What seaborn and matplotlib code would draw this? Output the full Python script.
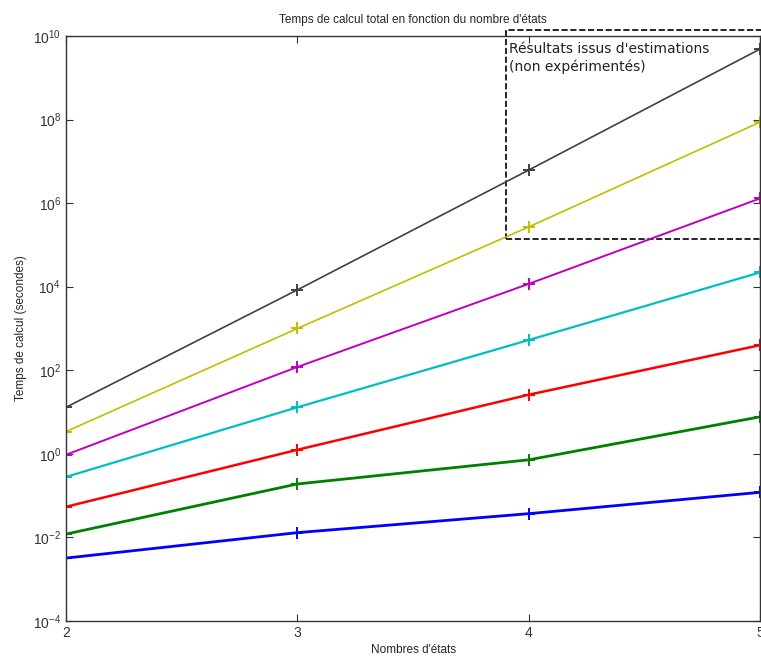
import numpy as np
import pandas as pd
import seaborn as sns
import matplotlib.pyplot as plt
from matplotlib.patches import Rectangle

# nombres d'etats
etats = [2, 3, 4, 5]

# temps de calcul (secondes), une serie par courbe
t_black = [13, 8.4e3, 6.2e6, 4.9e9]
t_yellow = [3.4, 1.0e3, 2.7e5, 8.7e7]
t_magenta = [0.95, 120, 1.17e4, 1.3e6]
t_cyan = [0.28, 13, 530, 2.2e4]
t_red = [0.054, 1.25, 26, 400]
t_green = [0.012, 0.19, 0.72, 7.7]
t_blue = [0.0032, 0.013, 0.037, 0.12]

series = [
    ("black", t_black, (0.25, 0.25, 0.25), 1.2),
    ("yellow", t_yellow, (0.75, 0.75, 0.0), 1.2),
    ("magenta", t_magenta, (0.75, 0.0, 0.75), 1.4),
    ("cyan", t_cyan, (0.0, 0.75, 0.75), 1.6),
    ("red", t_red, (1.0, 0.0, 0.0), 1.8),
    ("green", t_green, (0.0, 0.5, 0.0), 2.0),
    ("blue", t_blue, (0.0, 0.0, 1.0), 2.0),
]

sns.set_style("ticks")
plt.rcParams['font.family'] = ['Liberation Sans', 'DejaVu Sans']
plt.rcParams['mathtext.default'] = 'regular'
plt.rcParams['axes.unicode_minus'] = False
plt.rcParams['xtick.direction'] = 'in'
plt.rcParams['ytick.direction'] = 'in'

fig = plt.figure(figsize=(7.61, 6.59), dpi=100)
ax = fig.add_axes([0.0867, 0.0577, 0.9123, 0.8877])

for name, vals, col, lw in series:
    df = pd.DataFrame({"etats": etats, "temps": vals})
    sns.lineplot(data=df, x="etats", y="temps", color=col, linewidth=lw,
                 marker='+', markersize=8, markeredgewidth=1.4,
                 markeredgecolor=col, ax=ax, legend=False)

ax.set_yscale('log')
ax.set_xlim(2, 5)
ax.set_ylim(1e-4, 1e10)
ax.set_xticks(etats)
ax.set_yticks([10.0 ** k for k in range(-4, 11, 2)])
ax.minorticks_off()
ax.tick_params(axis='both', which='both', top=True, right=True,
               length=5, width=0.8, labelsize=10, colors='#333333')
for sp in ax.spines.values():
    sp.set_linewidth(1.0)
    sp.set_color('#333333')

ax.set_title("Temps de calcul total en fonction du nombre d'états", fontsize=8.5, pad=9)
ax.set_xlabel("Nombres d'états", fontsize=8.5, labelpad=3)
ax.set_ylabel("Temps de calcul (secondes)", fontsize=8.5, labelpad=4)

# zone estimee
box = Rectangle((3.9, 1.4e5), 1.3, 1.4e10 - 1.4e5, fill=False,
                linestyle='--', linewidth=1.2, edgecolor='black', clip_on=False)
ax.add_patch(box)
ax.text(3.915, 7e9, "Résultats issus d'estimations\n(non expérimentés)",
        fontsize=10, family='DejaVu Sans', va='top', ha='left', color='#222222',
        linespacing=1.3)

plt.savefig("out.png", dpi=100)
